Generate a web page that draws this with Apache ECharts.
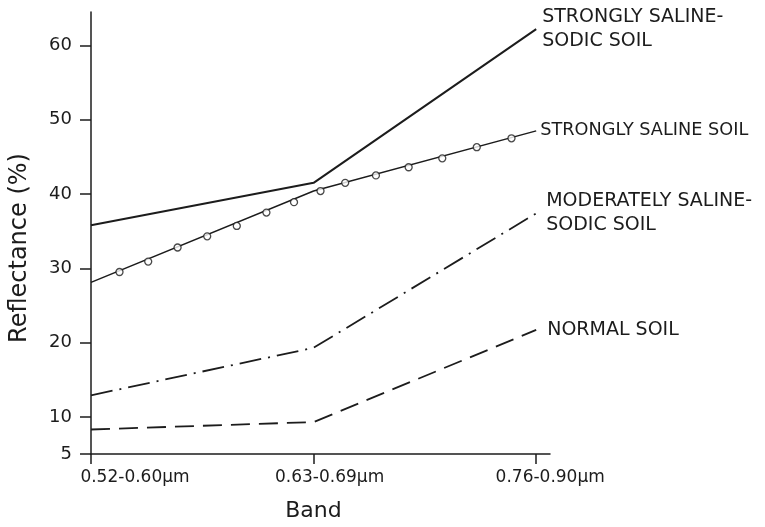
<!DOCTYPE html>
<html>
<head>
<meta charset="utf-8">
<script src="https://cdn.jsdelivr.net/npm/echarts@6/dist/echarts.min.js"></script>
<style>
html,body{margin:0;padding:0;background:#fff;}
#chart{width:765px;height:527px;}
</style>
</head>
<body>
<div id="chart"></div>
<script>
// Band positions (category index) and tick labels
var bands = ['0.52-0.60µm', '0.63-0.69µm', '0.76-0.90µm'];
var bandPos = [0, 1, 2];
var yTicks = [5, 10, 20, 30, 40, 50, 60];

// Reflectance (%) per band
var stronglySalineSodic = [35.8, 41.5, 62.2];
var stronglySaline = [28.1, 40.4, 48.5];
var moderatelySalineSodic = [12.9, 19.3, 37.4];
var normalSoil = [8.3, 9.3, 21.7];

// Open-circle markers along the strongly saline soil curve
var circleX = [0.128, 0.257, 0.389, 0.522, 0.655, 0.788, 0.912, 1.031, 1.142, 1.28, 1.427, 1.578, 1.733, 1.889];
var circleY = [29.5, 30.9, 32.8, 34.3, 35.7, 37.5, 38.9, 40.4, 41.5, 42.5, 43.6, 44.8, 46.3, 47.5];

var seriesNames = ['STRONGLY SALINE-\nSODIC SOIL', 'STRONGLY SALINE SOIL', 'MODERATELY SALINE-\nSODIC SOIL', 'NORMAL SOIL'];

function pairs(xs, ys) { return xs.map(function (x, i) { return [x, ys[i]]; }); }

var ink = '#1c1c1c';
var font = 'DejaVu Sans';

function endLabel(text, dist, size) {
  return {
    show: true,
    formatter: text,
    color: ink,
    fontFamily: font,
    fontSize: size,
    lineHeight: 24,
    distance: dist
  };
}

var chart = echarts.init(document.getElementById('chart'), null, {renderer: 'canvas'});
chart.setOption({
  animation: false,
  backgroundColor: '#fff',
  grid: {left: 84, right: 215, top: 12, bottom: 69},
  xAxis: {
    type: 'value',
    min: 0,
    max: 2.062,
    name: 'Band',
    nameLocation: 'middle',
    nameGap: 46,
    nameTextStyle: {color: ink, fontFamily: font, fontSize: 22, padding: [0, 14, 0, 0]},
    axisLine: {show: true, lineStyle: {color: ink, width: 1.5}},
    axisTick: {show: true, customValues: bandPos, length: 10, inside: false, lineStyle: {color: ink, width: 1.5}},
    axisLabel: {
      customValues: bandPos,
      margin: 15,
      color: ink,
      fontFamily: font,
      fontSize: 17,
      formatter: function (v) {
        var i = Math.round(v);
        return '{s' + i + '|' + bands[i] + '}';
      },
      rich: {
        s0: {fontFamily: font, fontSize: 17, color: ink, padding: [0, 0, 0, 88]},
        s1: {fontFamily: font, fontSize: 17, color: ink, padding: [0, 0, 0, 32]},
        s2: {fontFamily: font, fontSize: 17, color: ink, padding: [0, 0, 0, 28]}
      }
    },
    splitLine: {show: false}
  },
  yAxis: {
    type: 'value',
    min: 5,
    max: 64.5,
    name: 'Reflectance (%)',
    nameLocation: 'middle',
    nameGap: 59,
    nameTextStyle: {color: ink, fontFamily: font, fontSize: 24, padding: [0, 30, 0, 0]},
    axisLine: {show: true, lineStyle: {color: ink, width: 1.5}},
    axisTick: {show: true, customValues: yTicks, length: 11, lineStyle: {color: ink, width: 1.5}},
    axisLabel: {customValues: yTicks, margin: 19, color: ink, fontFamily: font, fontSize: 18},
    splitLine: {show: false}
  },
  series: [
    {
      name: seriesNames[0], type: 'line', symbol: 'none', silent: true,
      data: pairs(bandPos, stronglySalineSodic),
      lineStyle: {color: ink, width: 2},
      endLabel: endLabel(seriesNames[0], 6, 19)
    },
    {
      name: seriesNames[1], type: 'line', symbol: 'none', silent: true,
      data: pairs(bandPos, stronglySaline),
      lineStyle: {color: ink, width: 1.5},
      endLabel: endLabel(seriesNames[1], 4, 17.7)
    },
    {
      name: 'markers', type: 'scatter', silent: true, z: 5,
      data: pairs(circleX, circleY),
      symbol: 'circle', symbolSize: 7,
      itemStyle: {color: '#fff', borderColor: ink, borderWidth: 1.3}
    },
    {
      name: seriesNames[2], type: 'line', symbol: 'none', silent: true,
      data: pairs(bandPos, moderatelySalineSodic),
      lineStyle: {color: ink, width: 1.8, type: [22, 7, 2, 7]},
      endLabel: endLabel(seriesNames[2], 10, 19)
    },
    {
      name: seriesNames[3], type: 'line', symbol: 'none', silent: true,
      data: pairs(bandPos, normalSoil),
      lineStyle: {color: ink, width: 1.8, type: [19, 9]},
      endLabel: endLabel(seriesNames[3], 11, 19)
    }
  ]
});
</script>
</body>
</html>
